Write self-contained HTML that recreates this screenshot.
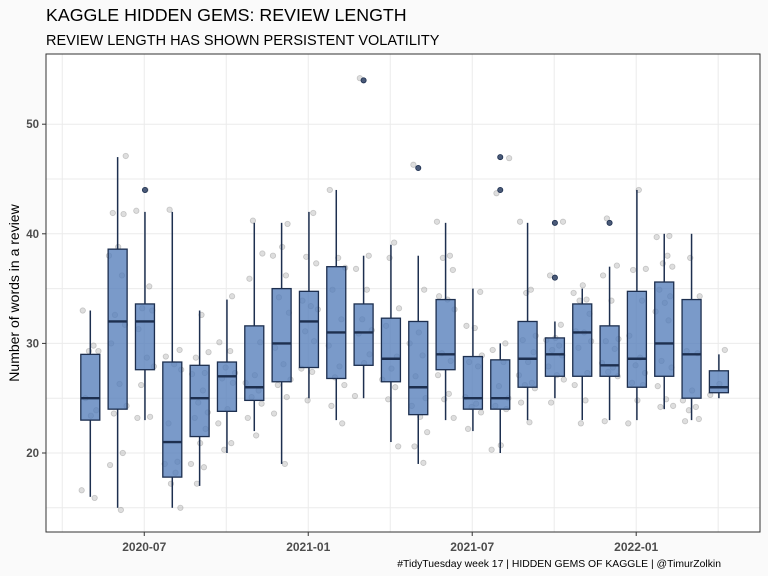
<!DOCTYPE html>
<html><head><meta charset="utf-8"><style>
body{margin:0;background:#fafafa;}
svg{display:block;font-family:"Liberation Sans",sans-serif;}
</style></head><body>
<svg id="chart" width="768" height="576" xmlns="http://www.w3.org/2000/svg">
<rect x="0" y="0" width="768" height="576" fill="#fafafa"/>
<text x="46" y="21" font-size="17.8" fill="#000">KAGGLE HIDDEN GEMS: REVIEW LENGTH</text>
<text x="46" y="45" font-size="14.5" fill="#000">REVIEW LENGTH HAS SHOWN PERSISTENT VOLATILITY</text>
<rect x="46" y="54" width="714" height="478" fill="#fff"/>
<g id="grid"></g>
<g id="jitter"></g>
<g id="boxes"></g>
<rect x="46" y="54" width="714" height="478" fill="none" stroke="#333" stroke-width="1"/>
<g id="axes"></g>
<text transform="translate(19,293) rotate(-90)" text-anchor="middle" font-size="14" fill="#000">Number of words in a review</text>
<text x="721" y="567" text-anchor="end" font-size="10.4" fill="#000">#TidyTuesday week 17 | HIDDEN GEMS OF KAGGLE | @TimurZolkin</text>
</svg>
<script>
const months = ["2020-05","2020-06","2020-07","2020-08","2020-09","2020-10","2020-11","2020-12","2021-01","2021-02","2021-03","2021-04","2021-05","2021-06","2021-07","2021-08","2021-09","2021-10","2021-11","2021-12","2022-01","2022-02","2022-03","2022-04"];
const whiskerLow = [16,15,23,15,17,20,22,19,25,23,25,21,19,23,22,20,23,25,23,23,23,24,23,25];
const q1 = [23,24,27.6,17.8,21.5,23.8,24.8,26.5,27.8,26.8,28,26.5,23.5,27.6,24,24,26,27,27,27,26,27,25,25.5];
const median = [25,32,32,21,25,27,26,30,32,31,31,28.6,26,29,25,25,28.6,29,31,28,28.6,30,29,26];
const q3 = [29,38.6,33.6,28.3,28,28.3,31.6,35,34.75,37,33.6,32.3,32,34,28.8,28.5,32,30.5,33.6,31.6,34.75,35.6,34,27.5];
const whiskerHigh = [33,47,42,42,33,34,41,41,42,44,38,39,38,41,35,30,41,32,35,37,44,40,40,29];
const outlierMonth = [2,10,12,15,15,17,17,19];
const outlierValue = [44,54,46,47,44,41,36,41];
const jitterValues = [
[33,29.8,29.3,29.3,25,23.9,23.4,16.6,15.9],
[47.1,41.9,41.8,38.8,38,36.2,32.6,31.7,30,26.3,24.3,23.6,20,18.9,14.8],
[44,42.1,35.2,33.2,33,31.3,28.7,27.9,26.2,23.3,23.2],
[42.2,29.4,28.8,28.1,27.6,22.7,19.2,19,18.2,17.2,15],
[32.6,29.2,28.7,27.3,27.2,25.7,24.6,23.7,23.2,22.2,20.9,19,18.7,17.2],
[34.3,30.1,29.3,27.8,27.3,26.8,26.4,24,22.7,20.9,20.3],
[41.2,38.2,35.9,30.1,27.1,26.4,25.7,25.1,24.5,23.2,21.6],
[40.9,38.8,38,36.2,34.2,32.8,29.6,28.1,26.7,26.2,25.1,23.6,19],
[41.9,37.9,37.3,33.9,33.4,33.1,31.1,30.2,27.7,27.4,24.8],
[44,37.8,36.9,34.9,32.2,29.8,27.9,26.9,26.2,24.3,22.7],
[54.2,38,36.8,34.9,32.2,31.2,30.9,29,28.2,25.2],
[39.2,37.8,33.2,31.6,28.8,27.7,26.7,26,24.9,20.6],
[46.3,34.9,31,30,28.9,27,25,24.3,23.3,21.9,20.6,19.1],
[41.1,38,37.8,36.7,34.3,34,33.1,29.1,28.4,27.1,25.4,24.9,23.2],
[34.7,31.6,31.4,28.9,28.3,27.9,25.1,24.5,24.2,23.7,22.2],
[46.9,43.7,30,29.4,28.3,26.1,25,24.3,24,20.7,20.3],
[41.1,34.9,34.6,30.7,30.3,29.2,28.3,27.1,26.4,26.2,25.9,24.6,22.8],
[41.1,36.2,31.7,30.5,30.3,29.8,29.4,28.9,27.9,27.1,26.7,24.6],
[35.3,34.6,34,33.9,32.7,31.1,31,30.2,29.6,27.3,26.2,24.8,22.7],
[41.4,37.1,36.2,33.9,30.4,30.2,29.5,28.2,27.8,27.4,27,22.9],
[44,36.8,36.7,33.9,30.7,28.7,28,27.3,26.4,26.2,24.8,22.7],
[39.8,39.7,38,37.3,37,34.9,34.3,33.7,32.9,32.1,28.4,27.8,26.1,24.9,24.3,24.2],
[37.8,34.3,29.3,29.1,25.7,24.8,24.2,23.9,23.1,22.9],
[29.4,26.3,25.3]
];
const yTicks = [20,30,40,50];
const yGrid = [15,20,25,30,35,40,45,50];
const xTickMonths = [2,8,14,20];
const xTickLabels = ["2020-07","2021-01","2021-07","2022-01"];
const xGridMonths = [-1,2,5,8,11,14,17,20,23];

const NS="http://www.w3.org/2000/svg";
function xS(m){return 90.3+m*27.33;}
function yS(v){return 453-(v-20)*10.96;}
function mk(tag,attrs,parent){const e=document.createElementNS(NS,tag);for(const k in attrs)e.setAttribute(k,attrs[k]);parent.appendChild(e);return e;}
const grid=document.getElementById('grid'),jit=document.getElementById('jitter'),bx=document.getElementById('boxes'),ax=document.getElementById('axes');
yGrid.forEach(v=>{const l=mk('line',{x1:46,x2:760,y1:yS(v),y2:yS(v),stroke:'#ebebeb','stroke-width':1},grid);

});
xGridMonths.forEach(m=>{const l=mk('line',{x1:xS(m)-0.7,x2:xS(m)-0.7,y1:54,y2:532,stroke:'#ebebeb','stroke-width':1},grid);

});
const offs=[-0.28,0.12,-0.05,0.3,-0.18,0.22,0.02,-0.32,0.16,-0.1,0.27,-0.24,0.07,0.33,-0.14,0.19];
jitterValues.forEach((arr,i)=>arr.forEach((v,j)=>{const c=mk('circle',{cx:xS(i)+offs[(j+i*3)%offs.length]*27,cy:yS(v),r:2.7,fill:'rgba(160,160,160,0.35)',stroke:'rgba(120,120,120,0.35)','stroke-width':0.8},jit);

}));
months.forEach((mo,i)=>{const x=xS(i);const g=mk('g',{},bx);


mk('line',{x1:x,x2:x,y1:yS(whiskerHigh[i]),y2:yS(q3[i]),stroke:'#1d2f4f','stroke-width':1.5},g);
mk('line',{x1:x,x2:x,y1:yS(q1[i]),y2:yS(whiskerLow[i]),stroke:'#1d2f4f','stroke-width':1.5},g);
mk('rect',{x:x-9.5,y:yS(q3[i]),width:19,height:yS(q1[i])-yS(q3[i]),fill:'rgba(84,125,186,0.78)',stroke:'#1d2f4f','stroke-width':1.3},g);
mk('line',{x1:x-9.5,x2:x+9.5,y1:yS(median[i]),y2:yS(median[i]),stroke:'#1d2f4f','stroke-width':2.4},g);});
outlierMonth.forEach((m,i)=>{const c=mk('circle',{cx:xS(m),cy:yS(outlierValue[i]),r:2.6,fill:'#4a5a78',stroke:'#1d2f4f','stroke-width':0.8},bx);

});
yTicks.forEach(v=>{mk('line',{x1:42,x2:46,y1:yS(v),y2:yS(v),stroke:'#333'},ax);
const t=mk('text',{x:39,y:yS(v)+4,'text-anchor':'end','font-size':11.5,'font-weight':'bold',fill:'#4d4d4d'},ax);t.textContent=v;

});
xTickMonths.forEach((m,i)=>{const x=xS(m)-0.7;mk('line',{x1:x,x2:x,y1:532,y2:536,stroke:'#333'},ax);
const t=mk('text',{x:x,y:551,'text-anchor':'middle','font-size':12,'font-weight':'bold',fill:'#4d4d4d'},ax);t.textContent=xTickLabels[i];

});
</script>
</body></html>
